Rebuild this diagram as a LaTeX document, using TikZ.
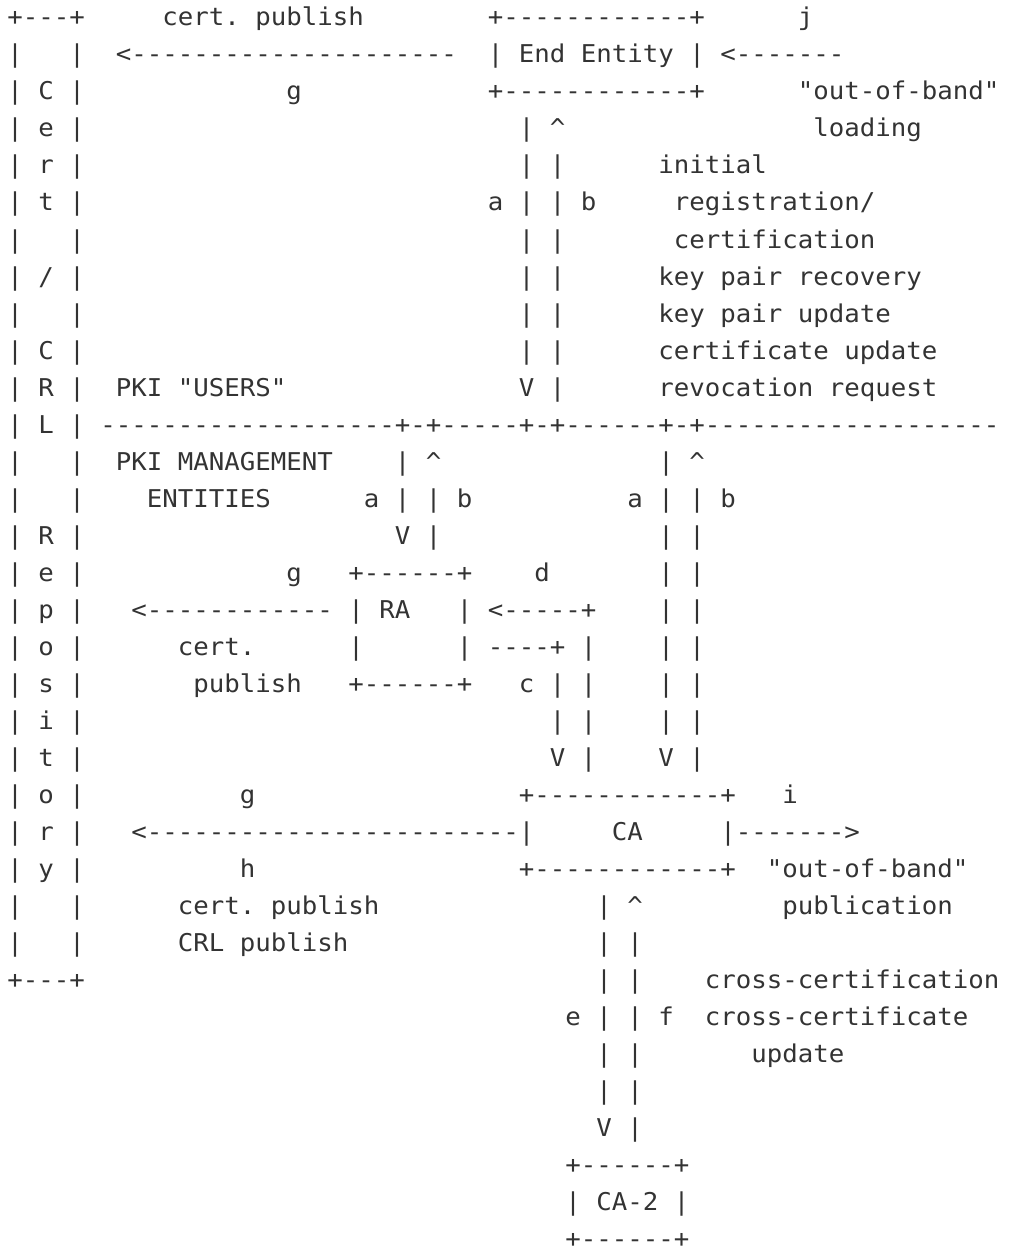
\documentclass[tikz,border=0pt]{standalone}
\usepackage{fontspec}
\setmonofont{DejaVu Sans Mono}[FakeStretch=1.051]
\colorlet{asciicolor}{black!80}

\begin{document}
\begin{tikzpicture}
  [line cap=round,
   % Styles
   ascii/.style={anchor=base west,inner sep=0pt,outer sep=0pt,text=asciicolor,
     font=\ttfamily\fontsize{24.5pt}{37pt}\selectfont\frenchspacing}]

  % Local definitions
  \def\colw{15.5pt}
  \def\rowh{37pt}

  \useasboundingbox (0,0) rectangle (1012pt,-1249pt);

  % The graphic, one row of characters at a time
  \begin{scope}[shift={(7.25pt,11pt)}]
    \foreach \c/\t in {0/{+---+}, 10/{cert. publish}, 31/{+------------+}, 51/j}
      \node[ascii] (r1-\c) at (\c*\colw,-1*\rowh) {\t};
    \foreach \c/\t in {0/|, 4/|, 7/{<---------------------}, 31/{| End Entity |}, 46/{<-------}}
      \node[ascii] (r2-\c) at (\c*\colw,-2*\rowh) {\t};
    \foreach \c/\t in {0/{| C |}, 18/g, 31/{+------------+}, 51/{"out-of-band"}}
      \node[ascii] (r3-\c) at (\c*\colw,-3*\rowh) {\t};
    \foreach \c/\t in {0/{| e |}, 33/{| \textasciicircum}, 52/loading}
      \node[ascii] (r4-\c) at (\c*\colw,-4*\rowh) {\t};
    \foreach \c/\t in {0/{| r |}, 33/{| |}, 42/initial}
      \node[ascii] (r5-\c) at (\c*\colw,-5*\rowh) {\t};
    \foreach \c/\t in {0/{| t |}, 31/{a | | b}, 43/{registration/}}
      \node[ascii] (r6-\c) at (\c*\colw,-6*\rowh) {\t};
    \foreach \c/\t in {0/|, 4/|, 33/{| |}, 43/certification}
      \node[ascii] (r7-\c) at (\c*\colw,-7*\rowh) {\t};
    \foreach \c/\t in {0/{| / |}, 33/{| |}, 42/{key pair recovery}}
      \node[ascii] (r8-\c) at (\c*\colw,-8*\rowh) {\t};
    \foreach \c/\t in {0/|, 4/|, 33/{| |}, 42/{key pair update}}
      \node[ascii] (r9-\c) at (\c*\colw,-9*\rowh) {\t};
    \foreach \c/\t in {0/{| C |}, 33/{| |}, 42/{certificate update}}
      \node[ascii] (r10-\c) at (\c*\colw,-10*\rowh) {\t};
    \foreach \c/\t in {0/{| R |}, 7/{PKI "USERS"}, 33/{V |}, 42/{revocation request}}
      \node[ascii] (r11-\c) at (\c*\colw,-11*\rowh) {\t};
    \foreach \c/\t in {0/{| L |}, 6/{-------------------+-+-----+-+------+-+-------------------}}
      \node[ascii] (r12-\c) at (\c*\colw,-12*\rowh) {\t};
    \foreach \c/\t in {0/|, 4/|, 7/{PKI MANAGEMENT}, 25/{| \textasciicircum}, 42/{| \textasciicircum}}
      \node[ascii] (r13-\c) at (\c*\colw,-13*\rowh) {\t};
    \foreach \c/\t in {0/|, 4/|, 9/ENTITIES, 23/{a | | b}, 40/{a | | b}}
      \node[ascii] (r14-\c) at (\c*\colw,-14*\rowh) {\t};
    \foreach \c/\t in {0/{| R |}, 25/{V |}, 42/{| |}}
      \node[ascii] (r15-\c) at (\c*\colw,-15*\rowh) {\t};
    \foreach \c/\t in {0/{| e |}, 18/g, 22/{+------+}, 34/d, 42/{| |}}
      \node[ascii] (r16-\c) at (\c*\colw,-16*\rowh) {\t};
    \foreach \c/\t in {0/{| p |}, 8/{<------------}, 22/|, 24/RA, 29/|, 31/{<-----+}, 42/{| |}}
      \node[ascii] (r17-\c) at (\c*\colw,-17*\rowh) {\t};
    \foreach \c/\t in {0/{| o |}, 11/{cert.}, 22/|, 29/|, 31/{----+}, 37/|, 42/{| |}}
      \node[ascii] (r18-\c) at (\c*\colw,-18*\rowh) {\t};
    \foreach \c/\t in {0/{| s |}, 12/publish, 22/{+------+}, 33/{c | |}, 42/{| |}}
      \node[ascii] (r19-\c) at (\c*\colw,-19*\rowh) {\t};
    \foreach \c/\t in {0/{| i |}, 35/{| |}, 42/{| |}}
      \node[ascii] (r20-\c) at (\c*\colw,-20*\rowh) {\t};
    \foreach \c/\t in {0/{| t |}, 35/{V |}, 42/{V |}}
      \node[ascii] (r21-\c) at (\c*\colw,-21*\rowh) {\t};
    \foreach \c/\t in {0/{| o |}, 15/g, 33/{+------------+}, 50/i}
      \node[ascii] (r22-\c) at (\c*\colw,-22*\rowh) {\t};
    \foreach \c/\t in {0/{| r |}, 8/{<------------------------|}, 39/CA, 46/{|------->}}
      \node[ascii] (r23-\c) at (\c*\colw,-23*\rowh) {\t};
    \foreach \c/\t in {0/{| y |}, 15/h, 33/{+------------+}, 49/{"out-of-band"}}
      \node[ascii] (r24-\c) at (\c*\colw,-24*\rowh) {\t};
    \foreach \c/\t in {0/|, 4/|, 11/{cert. publish}, 38/{| \textasciicircum}, 50/publication}
      \node[ascii] (r25-\c) at (\c*\colw,-25*\rowh) {\t};
    \foreach \c/\t in {0/|, 4/|, 11/{CRL publish}, 38/{| |}}
      \node[ascii] (r26-\c) at (\c*\colw,-26*\rowh) {\t};
    \foreach \c/\t in {0/{+---+}, 38/{| |}, 45/cross-certification}
      \node[ascii] (r27-\c) at (\c*\colw,-27*\rowh) {\t};
    \foreach \c/\t in {36/{e | | f}, 45/cross-certificate}
      \node[ascii] (r28-\c) at (\c*\colw,-28*\rowh) {\t};
    \foreach \c/\t in {38/{| |}, 48/update}
      \node[ascii] (r29-\c) at (\c*\colw,-29*\rowh) {\t};
    \node[ascii] (r30-38) at (38*\colw,-30*\rowh) {| |};
    \node[ascii] (r31-38) at (38*\colw,-31*\rowh) {V |};
    \node[ascii] (r32-36) at (36*\colw,-32*\rowh) {+------+};
    \node[ascii] (r33-36) at (36*\colw,-33*\rowh) {| CA-2 |};
    \node[ascii] (r34-36) at (36*\colw,-34*\rowh) {+------+};
  \end{scope}
\end{tikzpicture}
\end{document}
